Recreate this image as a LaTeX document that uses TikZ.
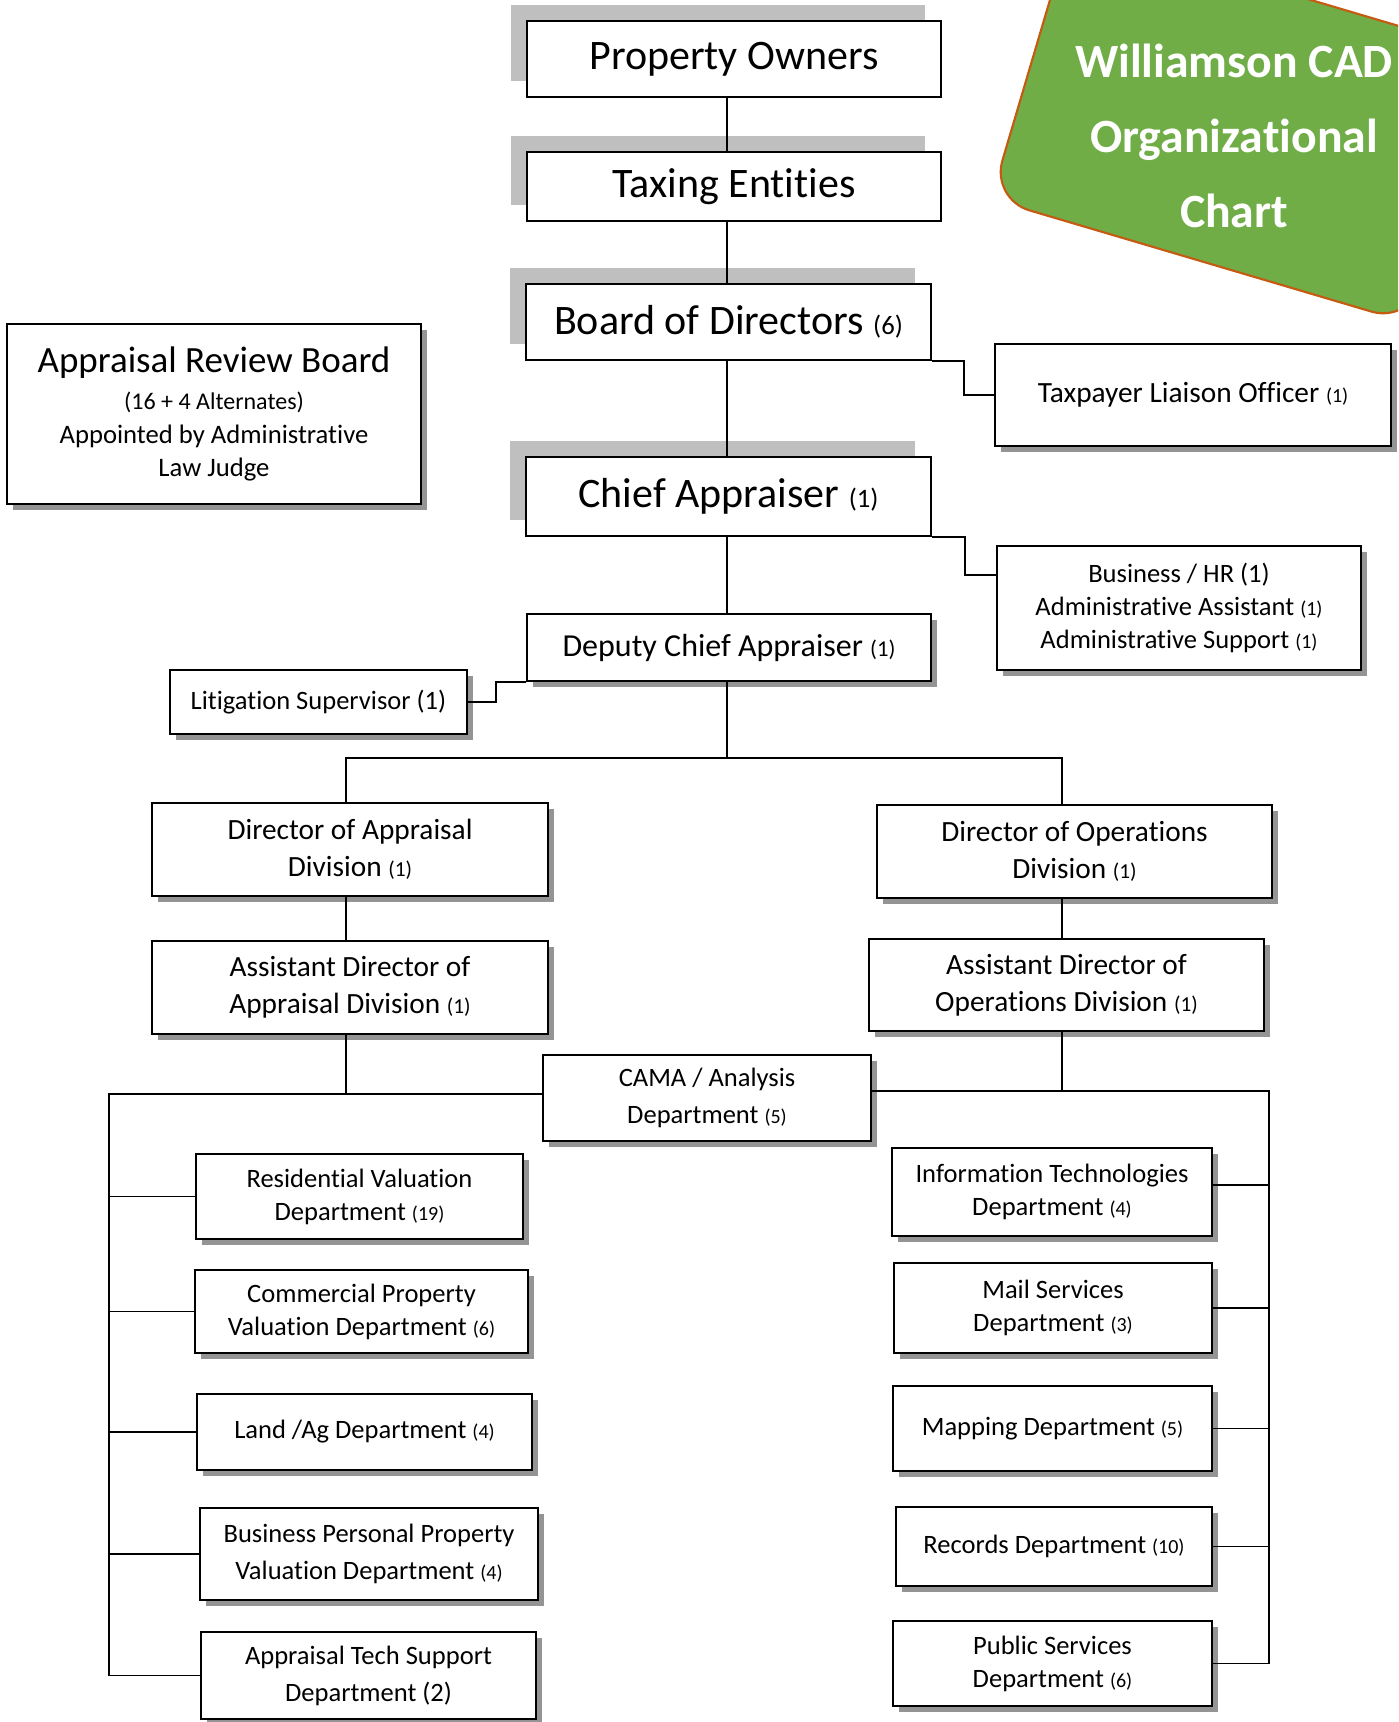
\documentclass[tikz,border=0pt]{standalone}
\usepackage{fontspec}
\setmainfont{Carlito}[Ligatures=NoCommon]
\usetikzlibrary{shadows,calc}
\definecolor{titlegreen}{HTML}{70AD47}
\definecolor{titleedge}{HTML}{C55A11}
\newcommand\fHead{\fontsize{31.5}{38}\selectfont}
\newcommand\fHeadN{\fontsize{20}{24}\selectfont}
\newcommand\fArb{\fontsize{27.75}{33}\selectfont}
\newcommand\fArbS{\fontsize{18}{25}\selectfont}
\newcommand\fArbM{\fontsize{20}{24.75}\selectfont}
\newcommand\fDep{\fontsize{24}{29}\selectfont}
\newcommand\fDepN{\fontsize{17}{20}\selectfont}
\newcommand\fDiv{\fontsize{22}{27.75}\selectfont}
\newcommand\fSide{\fontsize{22}{26}\selectfont}
\newcommand\fDept{\fontsize{19.9}{24.75}\selectfont}
\newcommand\fDeptW{\fontsize{19.9}{27.75}\selectfont}
\newcommand\fN{\fontsize{15}{18}\selectfont}
\newcommand\fNd{\fontsize{16}{19}\selectfont}
\newcommand\fTitle{\fontsize{35.8}{56}\selectfont\bfseries}
\tikzset{
  box/.style={draw, line width=1.4pt, fill=white, inner sep=0pt, align=center},
  hbox/.style={box, font=\fHead, general shadow={shadow xshift=-12pt, shadow yshift=12pt, fill=black!25}},
  sbox/.style={box, drop shadow={opacity=1, fill=black!42, shadow xshift=4.5pt, shadow yshift=-4.5pt}},
  span/.style n args={4}{minimum width={(#3-#1)*0.75pt}, minimum height={(#4-#2)*0.75pt},
     at={({(#1+#3)/2},{(#2+#4)/2})}},
  link/.style={line width=1.3pt},
}
\begin{document}
\begin{tikzpicture}[x=0.75pt, y=-0.75pt]
\clip (0,0) rectangle (1398,1722);
\fill[white] (0,0) rectangle (1398,1722);

% title shape
\draw[fill=titlegreen, draw=titleedge, line width=1.6pt, rounded corners=30pt]
  (991,199) -- (1410,323) -- (1490,53) -- (1071,-71) -- cycle;
\node[text=white, font=\fTitle, align=center] (ttl) at (1234,136) {Williamson CAD\\Organizational\\Chart};

% top chain
\node[hbox, span={527}{21}{941}{97}] (po) {Property Owners};
\node[hbox, span={527}{152}{941}{221}] (te) {Taxing Entities};
\node[hbox, span={526}{284}{931}{360}] (bod) {Board of Directors {\fHeadN (6)}};
\node[hbox, span={526}{457}{931}{536}] (ca) {Chief Appraiser {\fHeadN (1)}};
\node[sbox, font=\fDep, span={527}{614}{931}{681}] (dca) {Deputy Chief Appraiser {\fDepN (1)}};

% side boxes
\node[sbox, font=\fSide, span={995}{344}{1391}{446}] (tlo) {Taxpayer Liaison Officer {\fN (1)}};
\node[sbox, font=\fDept, span={997}{546}{1361}{670}] (bhr) {Business / HR (1)\\Administrative Assistant {\fN (1)}\\Administrative Support {\fN (1)}};
\node[sbox, font=\fDept, span={170}{670}{467}{734}] (lit) {Litigation Supervisor (1)};
\node[sbox, font=\fArbM, span={7}{324}{421}{504}] (arb) {{\fArb Appraisal Review Board}\\[2.5pt]{\fArbS (16 + 4 Alternates)}\\[1pt]Appointed by Administrative\\Law Judge};

% divisions
\node[sbox, font=\fDiv, span={152}{803}{548}{896}] (dap) {Director of Appraisal\\Division {\fNd (1)}};
\node[sbox, font=\fDiv, span={877}{805}{1272}{898}] (dop) {Director of Operations\\Division {\fNd (1)}};
\node[sbox, font=\fDiv, span={152}{941}{548}{1034}] (adap) {Assistant Director of\\Appraisal Division {\fNd (1)}};
\node[sbox, font=\fDiv, span={869}{939}{1264}{1031}] (adop) {Assistant Director of\\Operations Division {\fNd (1)}};

% departments
\node[sbox, font=\fDeptW, span={543}{1055}{871}{1141}] (cama) {CAMA / Analysis\\Department {\fN (5)}};
\node[sbox, font=\fDept, span={196}{1154}{523}{1239}] (res) {Residential Valuation\\Department {\fN (19)}};
\node[sbox, font=\fDept, span={195}{1270}{528}{1353}] (com) {Commercial Property\\Valuation Department {\fN (6)}};
\node[sbox, font=\fDept, span={197}{1394}{532}{1470}] (land) {Land /Ag Department {\fN (4)}};
\node[sbox, font=\fDeptW, span={200}{1508}{538}{1600}] (bpp) {Business Personal Property\\Valuation Department {\fN (4)}};
\node[sbox, font=\fDeptW, span={201}{1632}{536}{1719}] (ats) {Appraisal Tech Support\\Department (2)};
\node[sbox, font=\fDept, span={892}{1148}{1212}{1236}] (it) {Information Technologies\\Department {\fN (4)}};
\node[sbox, font=\fDept, span={894}{1263}{1212}{1353}] (mail) {Mail Services\\Department {\fN (3)}};
\node[sbox, font=\fDept, span={893}{1386}{1212}{1471}] (map) {Mapping Department {\fN (5)}};
\node[sbox, font=\fDept, span={896}{1507}{1212}{1586}] (rec) {Records Department {\fN (10)}};
\node[sbox, font=\fDept, span={893}{1621}{1212}{1706}] (pub) {Public Services\\Department {\fN (6)}};

% guide coordinates
\coordinate (sx) at (727,0);
\coordinate (lx) at (346,0);
\coordinate (rx) at (1062,0);
\coordinate (lbx) at (109,0);
\coordinate (rbx) at (1269,0);
\coordinate (jy) at (0,758);
\coordinate (lby) at ($(cama.west)+(0,-4)$);
\coordinate (rby) at ($(cama.east)+(0,-7)$);

% connectors
\draw[link] (po.south -| sx) -- (te.north -| sx);
\draw[link] (te.south -| sx) -- (bod.north -| sx);
\draw[link] (bod.south -| sx) -- (ca.north -| sx);
\draw[link] (ca.south -| sx) -- (dca.north -| sx);
\draw[link] (bod.south east) -- ++(32,0) |- (tlo.west);
\draw[link] (ca.south east) -- ++(33,0) |- ($(bhr.north west)+(0,30)$);
\draw[link] (dca.south west) -- ++(-30,0) |- (lit.east);
\draw[link] (dca.south -| sx) -- (sx |- jy);
\draw[link] (dap.north -| lx) -- (lx |- jy) -- (rx |- jy) -- (dop.north -| rx);
\draw[link] (dap.south -| lx) -- (adap.north -| lx);
\draw[link] (dop.south -| rx) -- (adop.north -| rx);
\draw[link] (adap.south -| lx) -- (lx |- lby);
\draw[link] (lby) -- (lbx |- lby) -- (lbx |- ats.west) -- (ats.west);
\foreach \n in {res,com,land,bpp} \draw[link] (lbx |- \n.west) -- (\n.west);
\draw[link] (adop.south -| rx) -- (rx |- rby);
\draw[link] (rby) -- (rbx |- rby) -- (rbx |- pub.east) -- (pub.east);
\draw[link] ($(it.east)+(0,-7)$) -- (rbx |- {$(it.east)+(0,-7)$});
\foreach \n in {mail,map,rec} \draw[link] (\n.east) -- (rbx |- \n.east);
\end{tikzpicture}
\end{document}
